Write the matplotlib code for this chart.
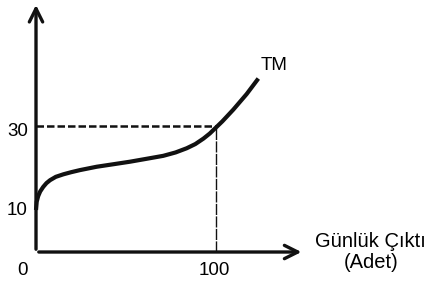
import numpy as np
import matplotlib.pyplot as plt

plt.rcParams['font.family'] = ['Liberation Sans', 'DejaVu Sans']

# TM curve
tm_x = [0, 0.4, 1.2, 2.3, 4.0, 5.8, 7.8, 11, 15.2, 19.5, 24.4, 33.7, 43, 52.2, 61.5,
        70.7, 77.5, 83.7, 88.5, 93, 96.5, 99.4, 103.5, 109.6, 117, 123.5]
tm_y = [10.0, 12.0, 13.3, 14.4, 15.5, 16.4, 17.1, 17.9, 18.5, 19.0, 19.5, 20.3, 20.9,
        21.5, 22.2, 22.9, 23.7, 24.7, 25.7, 27.0, 28.2, 29.4, 31.1, 33.9, 37.6, 41.3]

q_ref = 100
cost_ref = 30

fig = plt.figure(figsize=(4.27, 2.87), dpi=100)
ax = fig.add_axes([0, 0, 1, 1])
ax.set_xlim(-20, 217.2)
ax.set_ylim(-8.33, 60)
ax.axis('off')

# axes with arrows
arrow = dict(arrowstyle='->', lw=2.4, color='#111111', mutation_scale=24)
ax.annotate('', xy=(149, 0), xytext=(0, 0), arrowprops=arrow)
ax.annotate('', xy=(0, 59.5), xytext=(0, 0), arrowprops=arrow)

# curve
ax.plot(tm_x, tm_y, color='#111111', lw=3.0, solid_capstyle='butt', solid_joinstyle='round')
ax.text(125, 44.5, 'TM', fontsize=13.5, ha='left', va='center')

# reference lines
ax.plot([0, q_ref], [cost_ref, cost_ref], color='#111111', lw=1.8, ls=(0, (3, 1.2)))
ax.plot([q_ref, q_ref], [0, cost_ref], color='#111111', lw=1.0, ls=(0, (8, 1)))

ax.text(-10.3, 28.8, '30', fontsize=13.5, ha='center', va='center')
ax.text(-10.5, 9.8, '10', fontsize=13.5, ha='center', va='center')
ax.text(-7.5, -4.4, '0', fontsize=13.5, ha='center', va='center')
ax.text(99, -4.4, '100', fontsize=13.5, ha='center', va='center')

ax.text(185.5, 2.6, 'Günlük Çıktı', fontsize=14.5, ha='center', va='center')
ax.text(186, -2.6, '(Adet)', fontsize=14.5, ha='center', va='center')

fig.savefig('out.png', dpi=100)
